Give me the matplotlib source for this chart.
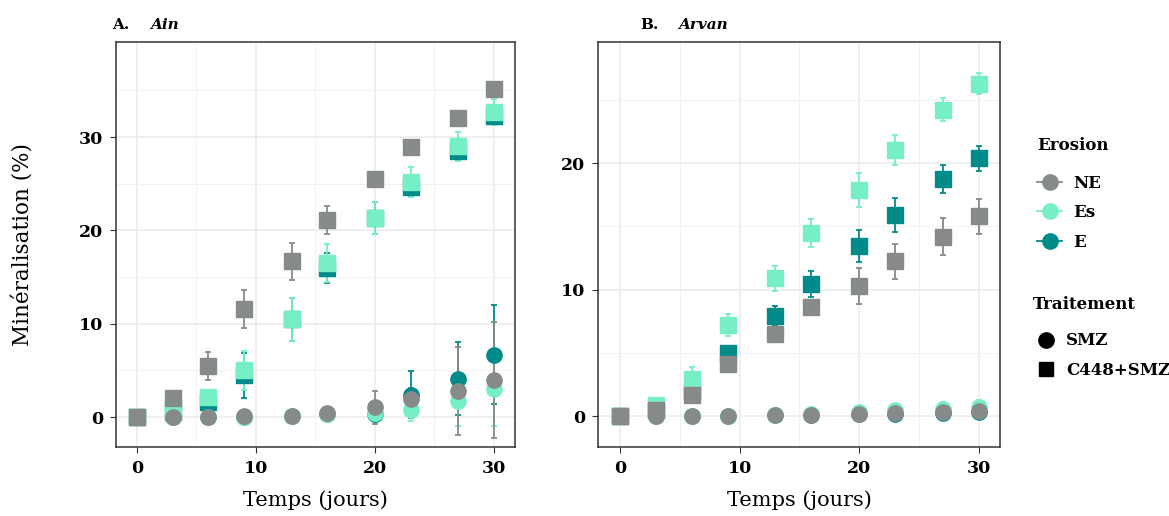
import matplotlib
matplotlib.use("Agg")
import matplotlib.pyplot as plt
from matplotlib.lines import Line2D

# sampling days
temps = [0, 3, 6, 9, 13, 16, 20, 23, 27, 30]

# Ain - C448+SMZ (squares)
ain_sq = {
    "NE": [0, 2.0, 5.5, 11.6, 16.7, 21.1, 25.5, 28.9, 32.0, 35.2],
    "Es": [0, 1.0, 2.2, 5.0, 10.5, 16.5, 21.3, 25.2, 29.0, 32.7],
    "E":  [0, 0.5, 1.6, 4.5, 10.5, 16.0, 21.3, 24.7, 28.5, 32.3],
}
ain_sq_err = {
    "NE": [0, 0.2, 1.5, 2.0, 2.0, 1.5, 0.3, 0.3, 0.3, 0.3],
    "Es": [0, 0.2, 0.5, 2.1, 2.3, 2.0, 1.7, 1.6, 1.6, 1.4],
    "E":  [0, 0.2, 0.5, 2.4, 2.3, 1.6, 1.7, 1.0, 0.5, 0.5],
}
# Ain - SMZ (circles)
ain_ci = {
    "NE": [0, 0, 0, 0.1, 0.15, 0.4, 1.05, 1.9, 2.8, 4.0],
    "Es": [0, 0, 0, 0, 0.1, 0.3, 0.4, 0.8, 1.7, 3.0],
    "E":  [0, 0, 0, 0, 0.1, 0.3, 0.3, 2.4, 4.1, 6.7],
}
ain_ci_err = {
    "NE": [0, 0, 0, 0, 0.1, 0.3, 1.8, 1.2, 4.7, 6.2],
    "Es": [0, 0, 0, 0, 0.1, 0.3, 0.9, 1.2, 2.6, 4.0],
    "E":  [0, 0, 0, 0, 0.1, 0.3, 0.6, 2.5, 3.9, 5.3],
}

# Arvan - C448+SMZ (squares)
arv_sq = {
    "NE": [0, 0.45, 1.7, 4.1, 6.5, 8.6, 10.3, 12.25, 14.2, 15.8],
    "Es": [0, 0.9, 2.95, 7.2, 10.9, 14.5, 17.9, 21.05, 24.25, 26.3],
    "E":  [0, 0.5, 2.0, 5.0, 7.9, 10.45, 13.45, 15.9, 18.75, 20.4],
}
arv_sq_err = {
    "NE": [0, 0.1, 0.3, 0.3, 0.2, 0.3, 1.4, 1.4, 1.45, 1.4],
    "Es": [0, 0.2, 0.9, 0.9, 1.0, 1.1, 1.35, 1.2, 0.9, 0.85],
    "E":  [0, 0.1, 0.4, 0.3, 0.8, 1.05, 1.3, 1.35, 1.1, 1.0],
}
# Arvan - SMZ (circles)
arv_ci = {
    "NE": [0, 0, 0, 0, 0.05, 0.1, 0.2, 0.25, 0.3, 0.4],
    "Es": [0, 0, 0, 0, 0.1, 0.15, 0.3, 0.45, 0.55, 0.7],
    "E":  [0, 0, 0, 0, 0.05, 0.1, 0.15, 0.2, 0.25, 0.3],
}
arv_ci_err = {
    "NE": [0, 0, 0, 0.1, 0.1, 0.15, 0.3, 0.4, 0.5, 0.5],
    "Es": [0, 0, 0, 0.1, 0.1, 0.15, 0.3, 0.4, 0.6, 0.6],
    "E":  [0, 0, 0, 0.1, 0.1, 0.15, 0.3, 0.4, 0.5, 0.5],
}

couleurs = {"NE": "#868B89", "Es": "#76EEC6", "E": "#008B8B"}
ordre_dessin = ["E", "Es", "NE"]
ordre_legende = ["NE", "Es", "E"]

plt.rcParams["font.family"] = ["DejaVu Serif"]

fig = plt.figure(figsize=(11.69, 5.16), dpi=100)
axA = fig.add_axes([0.0992, 0.1337, 0.3413, 0.785])
axB = fig.add_axes([0.5116, 0.1337, 0.3439, 0.785])


def panneau(ax, sq, sq_err, ci, ci_err, ylim, xlim):
    for g in ordre_dessin:
        c = couleurs[g]
        ax.errorbar(temps, ci[g], yerr=ci_err[g], fmt="o", color=c, ms=11,
                    elinewidth=1.3, capsize=2.5, capthick=1.3, zorder=3)
        ax.errorbar(temps, sq[g], yerr=sq_err[g], fmt="s", color=c, ms=12,
                    elinewidth=1.3, capsize=2.5, capthick=1.3, zorder=3)
    ax.set_xlim(*xlim)
    ax.set_ylim(*ylim)
    ax.set_xticks([0, 10, 20, 30])
    ax.set_xticks([5, 15, 25], minor=True)
    ax.set_yticks([0, 10, 20, 30] if ylim[1] > 30 else [0, 10, 20])
    ax.set_yticks([5, 15, 25, 35] if ylim[1] > 30 else [5, 15, 25], minor=True)
    ax.grid(which="major", color="#EBEBEB", lw=1.1, zorder=0)
    ax.grid(which="minor", color="#F2F2F2", lw=0.7, zorder=0)
    ax.set_axisbelow(True)
    ax.tick_params(which="major", length=4, color="#333333", width=0.8,
                   labelsize=12.5, pad=5)
    ax.tick_params(which="minor", length=0)
    for lab in ax.get_xticklabels() + ax.get_yticklabels():
        lab.set_fontweight("bold")
    for s in ax.spines.values():
        s.set_color("#333333")
        s.set_linewidth(1.1)
    ax.set_xlabel("Temps (jours)", fontsize=15, labelpad=10)


panneau(axA, ain_sq, ain_sq_err, ain_ci, ain_ci_err, (-3.2, 40.2), (-1.76, 31.76))
panneau(axB, arv_sq, arv_sq_err, arv_ci, arv_ci_err, (-2.45, 29.6), (-1.85, 31.8))
axA.set_ylabel("Minéralisation (%)", fontsize=15.5, labelpad=32)

fig.text(112 / 1169, 1 - 25 / 516, "A.", fontsize=11, fontweight="bold", va="center")
fig.text(150 / 1169, 1 - 25 / 516, "Ain", fontsize=11, fontweight="bold",
         style="italic", va="center")
fig.text(640 / 1169, 1 - 25 / 516, "B.", fontsize=11, fontweight="bold", va="center")
fig.text(678 / 1169, 1 - 25 / 516, "Arvan", fontsize=11, fontweight="bold",
         style="italic", va="center")

# legends
h_ero = [Line2D([], [], color=couleurs[g], marker="o", ms=11, lw=1.3,
                label=g) for g in ordre_legende]
leg1 = fig.legend(handles=h_ero, title="Erosion", loc="upper left",
                  bbox_to_anchor=(1022 / 1169, 1 - 122 / 516), frameon=False,
                  handlelength=1.5, handletextpad=0.7, labelspacing=0.75,
                  prop={"weight": "bold", "size": 12},
                  title_fontproperties={"weight": "bold", "size": 12})
leg1._legend_box.align = "left"
leg1._legend_box.sep = 15
h_tr = [Line2D([], [], color="black", marker="o", ms=11, lw=0, label="SMZ"),
        Line2D([], [], color="black", marker="s", ms=10, lw=0, label="C448+SMZ")]
leg2 = fig.legend(handles=h_tr, title="Traitement", loc="upper left",
                  bbox_to_anchor=(1018 / 1169, 1 - 281 / 516), frameon=False,
                  handlelength=1.5, handletextpad=0.5, labelspacing=0.75,
                  prop={"weight": "bold", "size": 12},
                  title_fontproperties={"weight": "bold", "size": 12})
leg2._legend_box.align = "left"
leg2._legend_box.sep = 14

fig.savefig("out.png", dpi=100)
